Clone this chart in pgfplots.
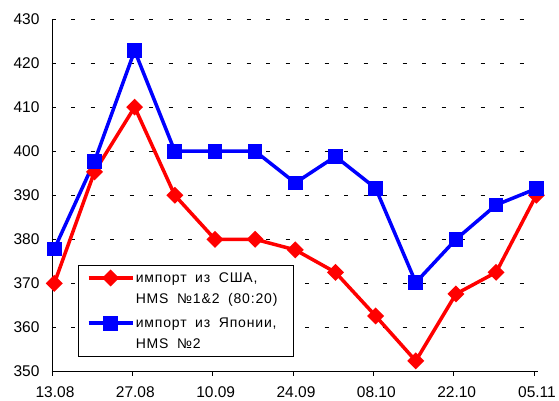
\documentclass[border=0pt]{standalone}
\usepackage{fontspec}
\setmainfont{Liberation Sans}
\newfontfamily\legfont{Liberation Sans}[LetterSpace=6, WordSpace=1.8]
\usepackage{pgfplots}
\pgfplotsset{compat=1.18}
\begin{document}
\begin{tikzpicture}
\begin{axis}[
  scale only axis,
  width=486bp, height=352.5bp,
  xmin=0, xmax=84.7,
  ymin=350, ymax=430,
  xtick={0,14,28,42,56,70,84},
  xticklabels={13.08,27.08,10.09,24.09,08.10,22.10,05.11},
  ytick={350,360,...,430},
  axis x line*=bottom,
  axis y line*=left,
  axis line style={black, line width=0.8bp, -},
  x tick style={black, line width=0.8bp},
  tick align=outside,
  major tick length=4bp,
  ytick style={draw=none},
  ymajorgrids,
  major grid style={black, line width=0.8bp, dash pattern=on 4bp off 15.5bp, dash phase=0.5bp},
  tick label style={font=\fontsize{15.5bp}{18bp}\selectfont},
  yticklabel style={xshift=-5bp},
  xticklabel style={inner sep=0pt, yshift=-11bp, xshift=3bp},
  /pgf/number format/assume math mode=true,
  clip=false,
  legend style={
    at={(0.0545,0.302)}, anchor=north west,
    draw=black, line width=0.6bp, fill=white,
    font=\legfont\fontsize{14bp}{21bp}\selectfont,
    nodes={align=left, inner sep=1.5bp},
    row sep=10bp,
    inner xsep=8bp, inner ysep=5.5bp,
  },
  legend cell align=left,
  legend image code/.code={
    \draw[mark repeat=2, mark phase=2, yshift=10.5bp] plot coordinates {(0bp,0bp) (22bp,0bp) (44bp,0bp)};
  },
]
\addplot[red, line width=3.5bp, mark=square*, mark size=4.25bp, mark options={rotate=45, solid, fill=red}] coordinates {
(0.4,370) (7.4,395.3) (14.4,410) (21.4,390) (28.4,380) (35.4,380) (42.4,377.6)
(49.4,372.5) (56.4,362.6) (63.4,352.4) (70.4,367.6) (77.4,372.5) (84.4,390)
};
\addlegendentry{импорт из США,\\HMS №1\&2 (80:20)\hspace*{6bp}}
\addplot[blue, line width=3.5bp, mark=square*, mark size=5.6bp, mark options={solid, fill=blue}] coordinates {
(0.4,377.8) (7.4,397.7) (14.4,422.8) (21.4,400) (28.4,400) (35.4,400) (42.4,392.8)
(49.4,398.8) (56.4,391.6) (63.4,370.2) (70.4,380) (77.4,387.8) (84.4,391.5)
};
\addlegendentry{импорт из Японии,\\HMS №2}
\end{axis}
\pgfresetboundingbox
\path[use as bounding box] ([xshift=-52bp,yshift=-29.5bp]current axis.south west) rectangle ([xshift=21bp,yshift=19bp]current axis.north east);
\end{tikzpicture}
\end{document}
